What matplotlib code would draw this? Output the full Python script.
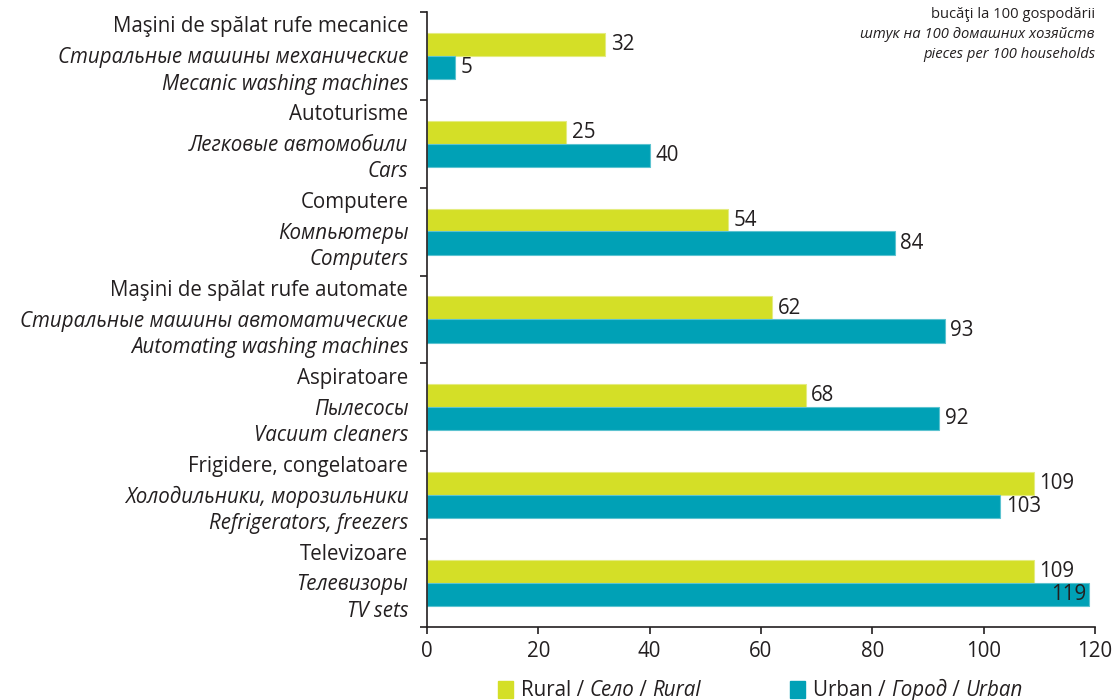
import matplotlib.pyplot as plt
from matplotlib.patches import Rectangle

plt.rcParams['font.family'] = ['Open Sans', 'DejaVu Sans']

ro_labels = ['Maşini de spălat rufe mecanice', 'Autoturisme', 'Computere',
             'Maşini de spălat rufe automate', 'Aspiratoare',
             'Frigidere, congelatoare', 'Televizoare']
ru_labels = ['Стиральные машины механические', 'Легковые автомобили', 'Компьютеры',
             'Стиральные машины автоматические', 'Пылесосы',
             'Холодильники, морозильники', 'Телевизоры']
en_labels = ['Mecanic washing machines', 'Cars', 'Computers',
             'Automating washing machines', 'Vacuum cleaners',
             'Refrigerators, freezers', 'TV sets']
rural = [32, 25, 54, 62, 68, 109, 109]
urban = [5, 40, 84, 93, 92, 103, 119]
xticks = [0, 20, 40, 60, 80, 100, 120]

c_rural = '#D4DF27'
c_urban = '#00A1B6'
txt = '#231F20'
fs = 14.8

fig = plt.figure(figsize=(11.18, 7), dpi=100)
ax = fig.add_axes([427 / 1118, 1 - 627 / 700, (1095 - 427) / 1118, (627 - 12) / 700])

pos = list(range(len(rural)))
h = 0.265
off = 0.13
ax.barh([p - off for p in pos], rural, height=h, color=c_rural, edgecolor='#E4EC80', linewidth=0.8)
ax.barh([p + off for p in pos], urban, height=h, color=c_urban, edgecolor='#5CC3D0', linewidth=0.8)

ax.set_xlim(0, 120)
ax.set_ylim(len(pos) - 0.5, -0.5)

for p, v in zip(pos, rural):
    ax.annotate(str(v), (v, p - off), xytext=(4, 0), textcoords='offset points',
                va='center', ha='left', fontsize=fs, color=txt)
for p, v in zip(pos, urban):
    if v >= 118:
        ax.annotate(str(v), (v, p + off), xytext=(-2, 0), textcoords='offset points',
                    va='center', ha='right', fontsize=fs, color=txt)
    else:
        ax.annotate(str(v), (v, p + off), xytext=(4, 0), textcoords='offset points',
                    va='center', ha='left', fontsize=fs, color=txt)

# category labels, three languages
for p in pos:
    ax.text(-0.028, p - 0.33, ro_labels[p], transform=ax.get_yaxis_transform(),
            ha='right', va='center', fontsize=fs, color=txt)
    ax.text(-0.028, p + 0.02, ru_labels[p], transform=ax.get_yaxis_transform(),
            ha='right', va='center', fontsize=fs, color=txt, style='italic')
    ax.text(-0.028, p + 0.32, en_labels[p], transform=ax.get_yaxis_transform(),
            ha='right', va='center', fontsize=fs, color=txt, style='italic')

ax.set_yticks([p - 0.5 for p in pos] + [len(pos) - 0.5])
ax.set_yticklabels([])
ax.set_xticks(xticks)
ax.set_xticklabels([str(x) for x in xticks])
ax.tick_params(axis='both', direction='out', length=5, width=1.2, color=txt,
               labelsize=fs, labelcolor=txt)
ax.tick_params(axis='x', pad=5)
for s in ['top', 'right']:
    ax.spines[s].set_visible(False)
for s in ['left', 'bottom']:
    ax.spines[s].set_color(txt)
    ax.spines[s].set_linewidth(1.2)

# units note
fig.text(1095 / 1118, 1 - 14 / 700, 'bucăţi la 100 gospodării', ha='right', va='center',
         fontsize=10.6, color=txt)
fig.text(1095 / 1118, 1 - 35 / 700, 'штук на 100 домашних хозяйств', ha='right', va='center',
         fontsize=10.6, color=txt, style='italic')
fig.text(1095 / 1118, 1 - 55 / 700, 'pieces per 100 households', ha='right', va='center',
         fontsize=10.6, color=txt, style='italic')

# legend
def chain(x0, y0, parts):
    prev = None
    for t, st in parts:
        if prev is None:
            prev = fig.text(x0 / 1118, 1 - y0 / 700, t, ha='left', va='baseline',
                            fontsize=fs, color=txt, style=st)
        else:
            prev = fig.add_artist(plt.Annotation(t, xy=(1, 0), xycoords=prev, va='bottom',
                                                 ha='left', fontsize=fs, color=txt, style=st))

def legend_box(x0, color):
    fig.add_artist(Rectangle((x0 / 1118, 1 - 698 / 700), 15 / 1118, 17 / 700,
                             transform=fig.transFigure, color=color))

legend_box(498, c_rural)
chain(521, 696, [('Rural / ', 'normal'), ('Село', 'italic'), (' / ', 'normal'), ('Rural', 'italic')])
legend_box(790, c_urban)
chain(813, 696, [('Urban / ', 'normal'), ('Город', 'italic'), (' / ', 'normal'), ('Urban', 'italic')])

fig.savefig('out.png', dpi=100)
